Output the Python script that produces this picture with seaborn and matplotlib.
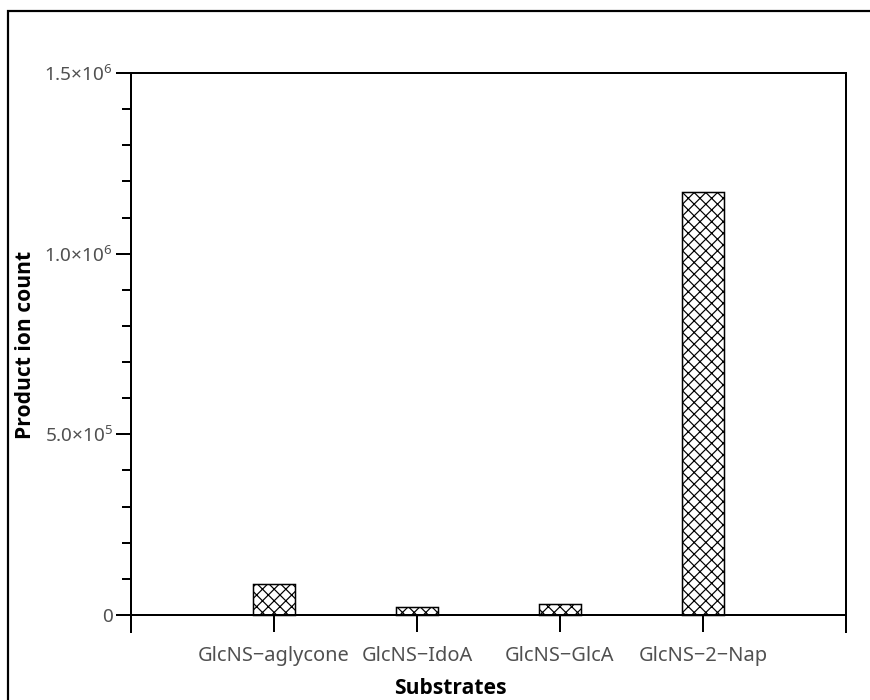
import matplotlib
matplotlib.use("Agg")
import matplotlib.pyplot as plt
import seaborn as sns
import pandas as pd
from matplotlib.ticker import MultipleLocator, FuncFormatter
from matplotlib.lines import Line2D

substrates = ["GlcNS\u2212aglycone", "GlcNS\u2212IdoA", "GlcNS\u2212GlcA", "GlcNS\u22122\u2212Nap"]
ion_counts = [86000, 21000, 30000, 1170000]

sns.set_theme(style="white")
DPI = 70
PX = 72.0 / DPI  # points per pixel
plt.rcParams["font.family"] = ["Noto Sans", "DejaVu Sans"]
plt.rcParams["mathtext.default"] = "regular"
plt.rcParams["hatch.linewidth"] = 1.2 * PX
plt.rcParams["hatch.color"] = "black"

df = pd.DataFrame({"Substrates": substrates, "Count": ion_counts})

W, H = 870, 700
fig = plt.figure(figsize=(W / DPI, H / DPI), dpi=DPI)
ax = fig.add_axes([131 / W, 1 - 632 / H, (846 - 131) / W, (632 - 73) / H])

sns.barplot(data=df, x="Substrates", y="Count", ax=ax, color="white",
            edgecolor="black", linewidth=1.5 * PX, width=0.3, saturation=1)
for p in ax.patches:
    p.set_hatch("xx")
    p.set_facecolor("white")
    p.set_edgecolor("black")

ax.set_xlim(-1, 4)
ax.set_ylim(-47000, 1.5e6)

for s in ["left", "right", "top", "bottom"]:
    ax.spines[s].set_visible(True)
    ax.spines[s].set_color("black")
    ax.spines[s].set_linewidth(2 * PX)
ax.spines["bottom"].set_position(("data", 0))

ax.yaxis.set_major_locator(MultipleLocator(5e5))
ax.yaxis.set_minor_locator(MultipleLocator(1e5))


def fmt(v, pos):
    if v == 0:
        return "0"
    e = 0
    m = v
    while abs(m) >= 10:
        m /= 10
        e += 1
    return "%.1f\u00d710$^{%d}$" % (m, e)


ax.yaxis.set_major_formatter(FuncFormatter(fmt))

tick_color = "#505050"
fs = 20 * PX
ax.tick_params(axis="y", which="major", direction="out", length=15 * PX,
               width=2 * PX, color="black", labelsize=19 * PX, labelcolor=tick_color,
               pad=3 * PX, left=True)
ax.tick_params(axis="y", which="minor", direction="out", length=9 * PX,
               width=2 * PX, color="black", left=True)
ax.tick_params(axis="x", which="major", direction="out", length=17 * PX,
               width=2 * PX, color="black", labelsize=fs, labelcolor=tick_color,
               pad=14 * PX, bottom=True)

bold_font = ["Open Sans", "DejaVu Sans"]
ax.set_ylabel("Product ion count", fontsize=21 * PX, fontweight="bold",
              color="black", family=bold_font)
ax.yaxis.set_label_coords(-0.148, (632 - 345) / 559)
ax.yaxis.label.set_va("center")
ax.set_xlabel("Substrates", fontsize=21 * PX, fontweight="bold",
              color="black", family=bold_font)
ax.xaxis.set_label_coords((450 - 131) / 715, -(688 - 632) / 559)
ax.xaxis.label.set_va("center")
ax.grid(False)

fig.add_artist(Line2D([8 / W, 8 / W, 1.0], [0.0, 1 - 11 / H, 1 - 11 / H],
                      transform=fig.transFigure, color="black", lw=2.2 * PX,
                      solid_joinstyle="miter"))

fig.savefig("out.png", dpi=DPI, facecolor="white")
